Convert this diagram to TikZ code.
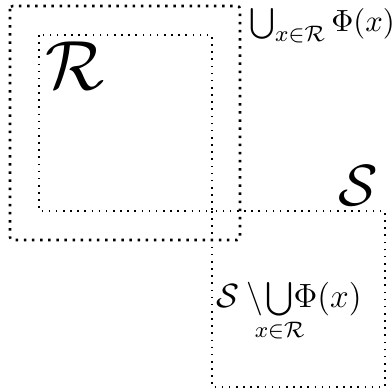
\documentclass[tikz,border=0pt]{standalone}
\usepackage{amsmath,amssymb,mathtools}
\usepackage{tikz}
\tikzset{
    outerbox/.style={draw=black, line width=0.9pt, dotted, rounded corners=1pt},
    regionbox/.style={draw=black, line width=0.55pt, dotted},
    label/.style={inner sep=0pt}
}

\begin{document}
\begin{tikzpicture}[x=0.357pt, y=-0.357pt]
        \useasboundingbox (0,0) rectangle (392,389);
        % Boxes
        \draw[outerbox] (10,6) rectangle (240,240);
        \draw[regionbox] (39,35) rectangle (212,211);
        \draw[regionbox] (212,211) rectangle (385,387);

        % Labels
        \node (lblR) [label, font=\Huge] at (75,66) {$\mathcal{R}$};
        \node (lblS) [label, font=\huge] at (358,186) {$\mathcal{S}$};
        \node (lblunion) [label, anchor=base west, font=\fontsize{11}{13}\selectfont] at (249,32) {$\bigcup_{x\in\mathcal{R}}\Phi(x)$};
        \node (lbldiff) [label, anchor=base west, font=\large] at (216,308) {$\mathcal{S}\setminus\!\bigcup\limits_{\mathclap{x\in\mathcal{R}}}\!\Phi(x)$};
    \end{tikzpicture}
\end{document}
